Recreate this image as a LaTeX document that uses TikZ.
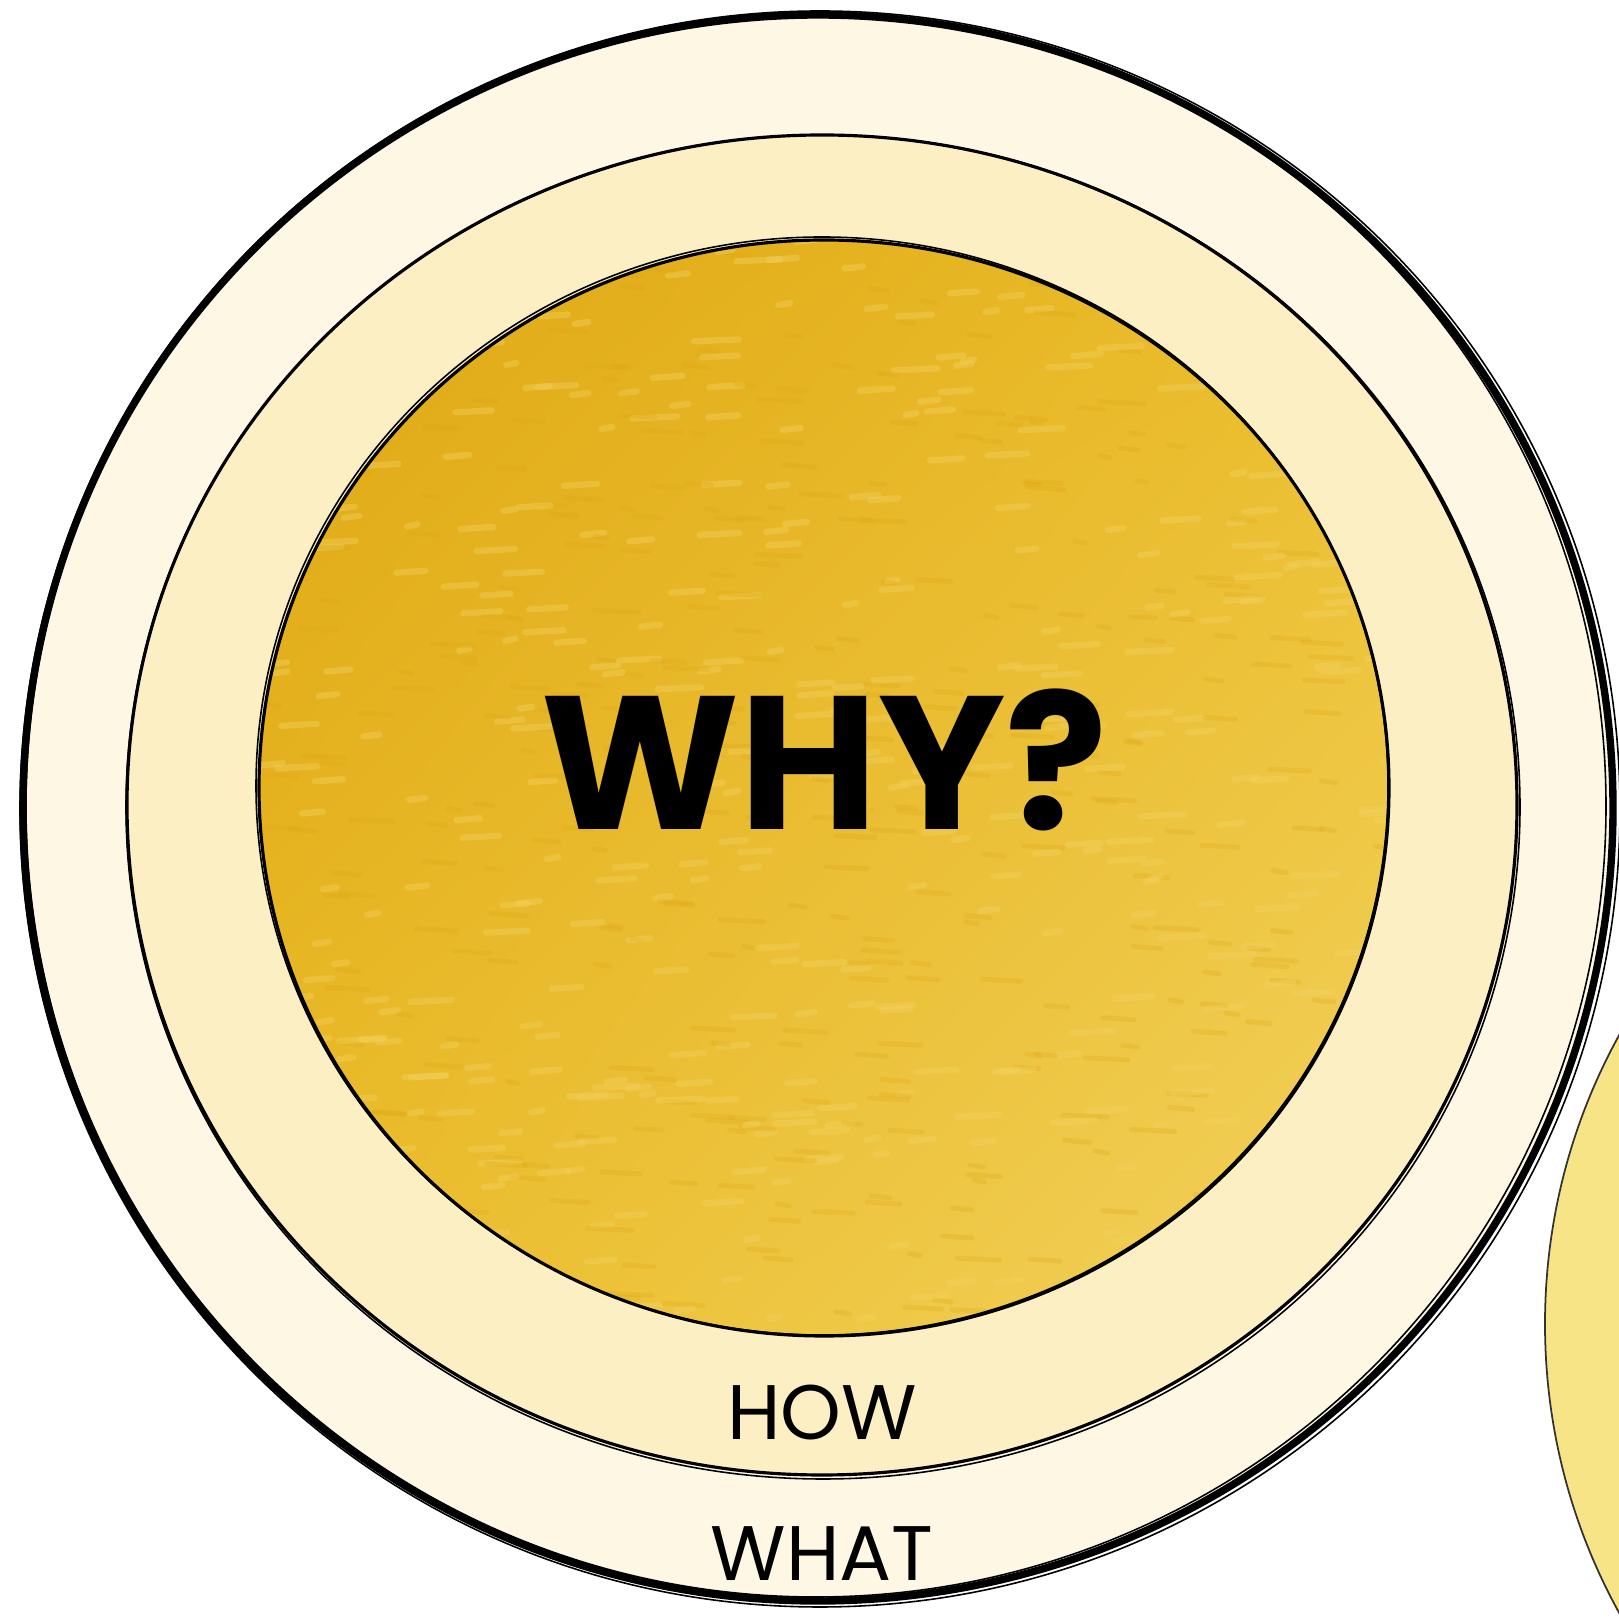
\documentclass[tikz,border=0pt]{standalone}
\usepackage{fontspec}
\setmainfont{Poppins}
\usepackage{xcolor}
\usetikzlibrary{positioning,shadings}
\definecolor{whatfill}{HTML}{FEF7E4}
\definecolor{howfill}{HTML}{FDEFC4}
\definecolor{golddark}{HTML}{DEA612}
\definecolor{goldmid}{HTML}{EBBD2A}
\definecolor{goldlight}{HTML}{F2D260}
\definecolor{sidefill}{HTML}{F7E486}

\begin{document}
\begin{tikzpicture}[
  brush/.style={draw=black, line width=2.1pt},
  hair/.style={draw=black, line width=0.45pt},
  rim/.style={draw=black, line width=0.9pt},
  bigtext/.style={font=\fontsize{54}{60}\selectfont\bfseries, anchor=base, inner sep=0pt},
  ringtext/.style={font=\fontsize{22}{26}\selectfont, anchor=base, inner sep=0pt}
]
\useasboundingbox (0,0) rectangle (16.19,16.19);
\clip (0,0) rectangle (16.19,16.19);
\fill[white] (0,0) rectangle (16.19,16.19);

\fill[sidefill] (21.44,2.95) circle[radius=5.99];
\draw[line width=0.5pt, black!80] (21.44,2.95) circle[radius=5.99];

\fill[whatfill] (8.18,8.11) ellipse[x radius=7.97, y radius=7.95];
\draw[brush] (8.18,8.11) ellipse[x radius=7.95, y radius=7.93];
\draw[hair] (8.20,8.10) ellipse[x radius=8.00, y radius=7.98];
\draw[hair] (8.16,8.13) ellipse[x radius=7.90, y radius=7.91];

\fill[howfill] (8.22,8.14) ellipse[x radius=6.95, y radius=6.70];
\draw[rim] (8.22,8.14) ellipse[x radius=6.95, y radius=6.70];
\draw[hair] (8.23,8.12) ellipse[x radius=6.97, y radius=6.72];

\begin{scope}
\clip (8.24,8.31) ellipse[x radius=5.65, y radius=5.48];
\shade[upper left=golddark, upper right=goldmid, lower left=goldmid, lower right=goldlight] (2.5,2.7) rectangle (14,14);
\pgfmathsetseed{11}
\foreach \i in {1,...,420} {
  \pgfmathsetmacro\px{2.5+11.4*rnd}
  \pgfmathsetmacro\py{2.8+11.0*rnd}
  \pgfmathsetmacro\pl{0.1+0.35*rnd}
  \draw[goldlight, opacity=0.4, line width=1.8pt, line cap=round] (\px,\py) -- ++(\pl,0.02);
  \pgfmathsetmacro\qx{2.5+11.4*rnd}
  \pgfmathsetmacro\qy{2.8+11.0*rnd}
  \draw[golddark, opacity=0.25, line width=1.4pt, line cap=round] (\qx,\qy) -- ++(\pl,-0.02);
}
\end{scope}
\draw[rim] (8.24,8.31) ellipse[x radius=5.65, y radius=5.48];
\draw[hair] (8.22,8.33) ellipse[x radius=5.66, y radius=5.49];

\node[bigtext] (why) at (8.24,7.89) {WHY?};
\node[ringtext] (how) at (8.22,1.79) {HOW};
\node[ringtext] (what) at (8.22,0.39) {WHAT};
\end{tikzpicture}
\end{document}
